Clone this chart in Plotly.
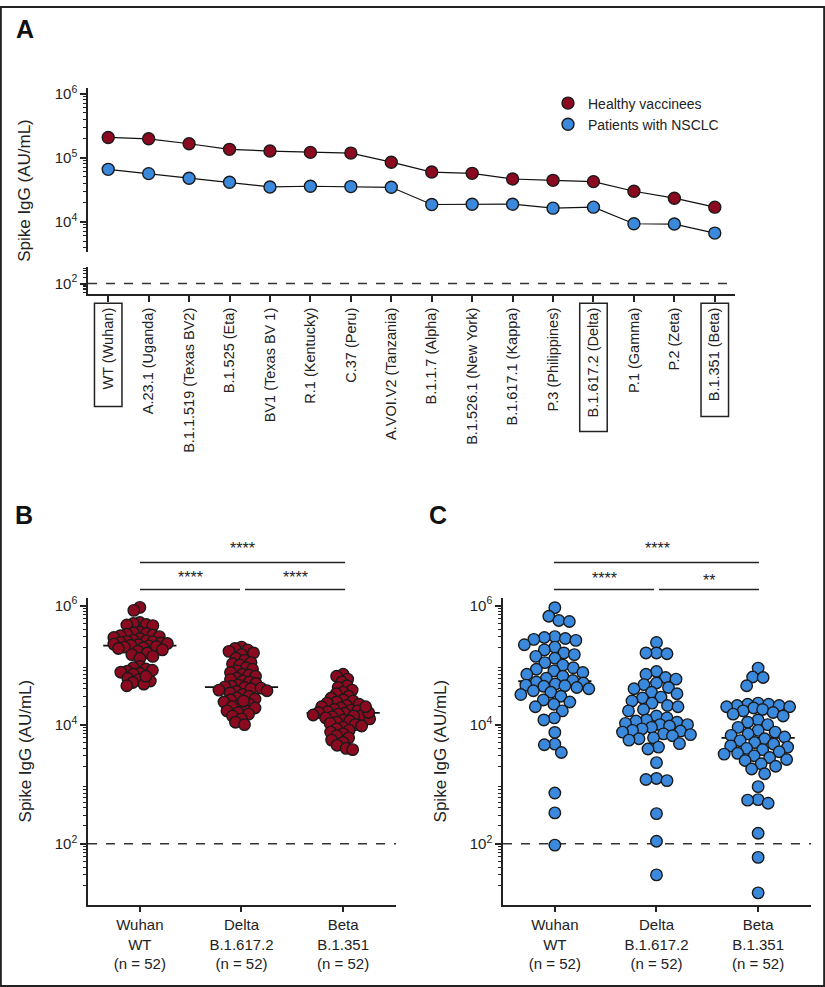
import numpy as np
import plotly.graph_objects as go

W, H = 825, 987
RED = "#8b0a1f"
BLUE = "#3a89dc"
INK = "#222222"

# ---------------- panel A data ----------------
variants = ["WT (Wuhan)", "A.23.1 (Uganda)", "B.1.1.519 (Texas BV2)", "B.1.525 (Eta)",
            "BV1 (Texas BV 1)", "R.1 (Kentucky)", "C.37 (Peru)", "A.VOI.V2 (Tanzania)",
            "B.1.1.7 (Alpha)", "B.1.526.1 (New York)", "B.1.617.1 (Kappa)", "P.3 (Philippines)",
            "B.1.617.2 (Delta)", "P.1 (Gamma)", "P.2 (Zeta)", "B.1.351 (Beta)"]
boxed = ["WT (Wuhan)", "B.1.617.2 (Delta)", "B.1.351 (Beta)"]
healthy_a = [2.07e5, 1.97e5, 1.65e5, 1.35e5, 1.27e5, 1.21e5, 1.18e5, 8.5e4,
             5.97e4, 5.7e4, 4.65e4, 4.43e4, 4.23e4, 2.99e4, 2.33e4, 1.69e4]
nsclc_a = [6.58e4, 5.64e4, 4.77e4, 4.13e4, 3.49e4, 3.58e4, 3.54e4, 3.45e4,
           1.86e4, 1.88e4, 1.88e4, 1.63e4, 1.69e4, 9.3e3, 9.2e3, 6.65e3]
cutoff = 100

# ---------------- panels B / C data ----------------
groups = ["Wuhan<br>WT<br>(n = 52)", "Delta<br>B.1.617.2<br>(n = 52)", "Beta<br>B.1.351<br>(n = 52)"]

healthy_wuhan = [9.3e5, 8.3e5, 5.2e5, 5.0e5, 4.8e5, 4.7e5, 4.6e5,
                 3.6e5, 3.5e5, 3.4e5, 3.3e5, 3.2e5, 3.1e5, 3.0e5, 2.9e5, 2.8e5,
                 2.6e5, 2.55e5, 2.5e5, 2.45e5, 2.4e5, 2.35e5, 2.3e5, 2.25e5, 2.2e5,
                 2.15e5, 2.1e5, 2.05e5, 2.0e5, 1.95e5, 1.9e5,
                 1.8e5, 1.7e5, 1.6e5, 1.5e5, 1.4e5, 1.3e5,
                 9.5e4, 9.0e4, 8.6e4, 8.2e4, 7.9e4, 7.6e4, 7.3e4, 7.0e4,
                 6.0e4, 5.7e4, 5.4e4, 5.1e4, 4.8e4, 4.5e4, 6.5e4]
healthy_delta = [2.0e5, 1.9e5, 1.8e5, 1.7e5, 1.6e5, 1.5e5,
                 1.3e5, 1.2e5, 1.1e5, 1.05e5, 1.0e5, 9.0e4, 8.5e4, 8.0e4,
                 7.5e4, 7.0e4, 6.8e4, 6.5e4, 6.0e4, 5.7e4, 5.4e4, 5.2e4,
                 4.9e4, 4.6e4, 4.4e4, 4.3e4, 4.2e4, 4.0e4, 3.8e4, 3.6e4, 3.4e4, 3.2e4,
                 3.0e4, 2.8e4, 2.7e4, 2.6e4, 2.4e4, 2.2e4, 2.1e4, 2.0e4,
                 1.9e4, 1.8e4, 1.7e4, 1.6e4, 1.5e4, 1.4e4, 1.25e4, 1.1e4, 1.0e4,
                 4.1e4, 3.7e4, 2.5e4]
healthy_beta = [7.0e4, 6.5e4, 5.8e4, 5.2e4, 4.5e4, 4.2e4,
                3.8e4, 3.5e4, 3.3e4, 3.0e4, 2.8e4, 2.6e4, 2.5e4,
                2.4e4, 2.3e4, 2.2e4, 2.1e4, 2.0e4, 1.9e4, 1.8e4, 1.75e4, 1.7e4, 1.65e4,
                1.6e4, 1.55e4, 1.5e4, 1.45e4, 1.4e4, 1.35e4, 1.3e4, 1.25e4, 1.2e4,
                1.15e4, 1.1e4, 1.05e4, 1.0e4,
                9.5e3, 9.0e3, 8.5e3, 8.0e3, 7.5e3, 7.0e3, 6.5e3,
                6.0e3, 5.5e3, 5.0e3, 4.5e3, 4.0e3, 3.8e3, 1.6e4, 1.45e4, 2.0e4]

nsclc_wuhan = [9.2e5, 6.6e5, 5.6e5, 5.4e5,
               3.0e5, 2.9e5, 2.8e5, 2.7e5, 2.6e5, 2.2e5, 2.0e5,
               1.8e5, 1.6e5, 1.5e5, 1.4e5, 1.3e5, 1.1e5, 1.0e5,
               9.0e4, 8.5e4, 8.0e4, 7.5e4, 7.0e4, 6.5e4, 6.0e4, 5.5e4, 5.2e4, 5.0e4,
               4.8e4, 4.6e4, 4.5e4, 4.4e4, 4.2e4, 4.0e4, 3.7e4, 3.5e4, 3.2e4, 3.0e4, 2.6e4,
               2.4e4, 2.2e4, 2.0e4, 1.7e4, 1.3e4,
               1.2e4, 7.4e3, 4.7e3, 4.6e3, 3.4e3, 7.1e2, 3.3e2, 9.5e1]
nsclc_delta = [2.4e5, 1.6e5, 1.6e5, 1.55e5,
               7.8e4, 7.0e4, 6.2e4, 5.8e4, 5.0e4, 4.7e4,
               4.2e4, 4.0e4, 3.5e4, 3.3e4, 2.9e4, 2.8e4,
               2.5e4, 2.3e4, 2.1e4, 2.0e4, 1.8e4, 1.7e4,
               1.4e4, 1.3e4, 1.2e4, 1.15e4, 1.1e4, 1.05e4, 1.0e4,
               1.0e4, 9.5e3, 9.0e3, 8.5e3, 8.0e3, 7.8e3, 7.5e3, 7.0e3, 6.8e3, 6.5e3,
               6.0e3, 5.8e3, 5.5e3, 4.8e3, 4.2e3, 3.9e3,
               2.3e3, 1.25e3, 1.2e3, 1.15e3, 3.2e2, 1.1e2, 3.0e1]
nsclc_beta = [8.9e4, 6.3e4, 6.2e4, 4.5e4,
              2.3e4, 2.2e4, 2.2e4, 2.1e4, 2.1e4, 2.0e4, 2.0e4, 1.9e4,
              1.8e4, 1.7e4, 1.6e4, 1.5e4, 1.4e4,
              1.2e4, 1.1e4, 1.0e4, 9.0e3, 8.0e3, 7.5e3,
              7.0e3, 6.6e3, 6.2e3, 5.8e3, 5.4e3, 5.0e3, 4.7e3, 4.4e3, 4.2e3, 4.0e3,
              3.8e3, 3.5e3, 3.3e3, 3.2e3, 3.0e3, 2.8e3, 2.6e3, 2.5e3, 2.2e3, 2.0e3, 1.8e3, 1.5e3,
              9.1e2, 5.5e2, 5.4e2, 4.8e2, 1.5e2, 5.9e1, 1.5e1]

healthy_sets = [healthy_wuhan, healthy_delta, healthy_beta]
nsclc_sets = [nsclc_wuhan, nsclc_delta, nsclc_beta]


def px(x):
    return x / W


def py(y):
    return 1 - y / H


def swarm(vals, d, maxw, px_dec=60.0):
    # simple beeswarm in pixel space, returns x offsets in px
    y = np.log10(np.asarray(vals, dtype=float)) * px_dec
    order = np.argsort(-y, kind="stable")
    cands = np.arange(-maxw, maxw + 0.25, 0.5)
    cands = cands[np.argsort(np.abs(cands), kind="stable")]
    xs = np.zeros(len(y))
    placed_x, placed_y = [], []
    for i in order:
        if placed_x:
            pxs = np.array(placed_x)
            pys = np.array(placed_y)
            gaps = np.sqrt((cands[:, None] - pxs[None, :]) ** 2 + (y[i] - pys[None, :]) ** 2).min(axis=1)
            ok = np.where(gaps >= d)[0]
            xs[i] = cands[ok[0]] if len(ok) else cands[np.argmax(gaps)]
        placed_x.append(xs[i])
        placed_y.append(y[i])
    return xs


fig = go.Figure()

# ---------------- panel A ----------------
fig.add_trace(go.Scatter(x=[-0.5, 15.5], y=[cutoff, cutoff], xaxis="x", yaxis="y2", mode="lines",
                         line=dict(color="#333", width=1.3, dash="dash"), showlegend=False, hoverinfo="skip"))
for name, vals, col in [("Healthy vaccinees", healthy_a, RED), ("Patients with NSCLC", nsclc_a, BLUE)]:
    xs = list(range(len(variants)))
    fig.add_trace(go.Scatter(x=xs, y=vals, xaxis="x", yaxis="y", mode="lines",
                             line=dict(color="#111", width=1.2), showlegend=False, hoverinfo="skip"))
    fig.add_trace(go.Scatter(x=xs, y=vals, xaxis="x", yaxis="y", name=name, mode="markers",
                             marker=dict(size=12, color=col, line=dict(color="#1a1a1a", width=1.4))))

# ---------------- panels B and C ----------------
panels = [("x2", "y3", healthy_sets, RED, 6.5, 30), ("x3", "y4", nsclc_sets, BLUE, 10.5, 34)]
unit_px = 308 / 3.03
for xa, ya, sets, col, dist, maxw in panels:
    fig.add_trace(go.Scatter(x=[-0.51, 2.52], y=[cutoff, cutoff], xaxis=xa, yaxis=ya, mode="lines",
                             line=dict(color="#333", width=1.3, dash="dash"), showlegend=False, hoverinfo="skip"))
    for g, vals in enumerate(sets):
        med = float(np.median(vals))
        fig.add_trace(go.Scatter(x=[g - 0.36, g + 0.36], y=[med, med], xaxis=xa, yaxis=ya, mode="lines",
                                 line=dict(color="#111", width=1.8), showlegend=False, hoverinfo="skip"))
        offs = swarm(vals, dist, maxw)
        fig.add_trace(go.Scatter(x=g + offs / unit_px, y=vals, xaxis=xa, yaxis=ya, mode="markers",
                                 marker=dict(size=11.5, color=col, line=dict(color="#1a1a1a", width=1.4)),
                                 showlegend=False))

# ---------------- axes ----------------
axis_common = dict(showline=True, linecolor=INK, linewidth=1.5, ticks="outside", tickcolor=INK,
                   tickwidth=1.5, ticklen=6, showgrid=False, zeroline=False, mirror=False)


def minor_vals(lo, hi):
    return [m * 10 ** k for k in range(lo, hi) for m in range(2, 10)]


sup = lambda k: "10<sup>%d</sup>" % k

fig.update_layout(
    xaxis=dict(domain=[px(88), px(735)], range=[-0.5, 15.5], anchor="y2",
               tickvals=list(range(len(variants))), ticktext=variants, tickangle=-90,
               tickfont=dict(size=14.5, family="Arial, Liberation Sans", color=INK), **axis_common),
    yaxis=dict(domain=[py(248), py(83)], type="log", range=[3.52, 6.08], anchor="x",
               tickvals=[1e4, 1e5, 1e6], ticktext=[sup(4), sup(5), sup(6)],
               tickfont=dict(size=15, color=INK),
               minor=dict(tickvals=minor_vals(3, 6), ticks="outside", ticklen=3.5, tickwidth=1, tickcolor=INK),
               **axis_common),
    yaxis2=dict(domain=[py(290), py(263)], type="log", range=[1.5, 2.75], anchor="x",
                tickvals=[100], ticktext=[sup(2)], tickfont=dict(size=15, color=INK),
                minor=dict(tickvals=[40, 50, 60, 70, 80, 90, 200, 300, 400, 500], ticks="outside",
                           ticklen=3.5, tickwidth=1, tickcolor=INK),
                **axis_common),
)

for xa, ya, x0, x1 in [("xaxis2", "yaxis3", 88, 396), ("xaxis3", "yaxis4", 503, 811)]:
    fig.update_layout({
        xa: dict(domain=[px(x0), px(x1)], range=[-0.51, 2.52], anchor=ya.replace("axis", ""),
                 tickvals=[0, 1, 2], ticktext=groups,
                 tickfont=dict(size=15, family="Arial, Liberation Sans", color=INK),
                 **axis_common),
        ya: dict(domain=[py(904), py(596)], type="log", range=[0.98, 6.12], anchor=xa.replace("axis", ""),
                 tickvals=[1e2, 1e4, 1e6], ticktext=[sup(2), sup(4), sup(6)],
                 tickfont=dict(size=15, color=INK),
                 minor=dict(tickvals=minor_vals(0, 6), ticks="outside", ticklen=3.5, tickwidth=1, tickcolor=INK),
                 **axis_common),
    })

# ---------------- boxes around selected A labels ----------------
box_len = {"WT (Wuhan)": 104, "B.1.617.2 (Delta)": 129, "B.1.351 (Beta)": 114}
shapes = []
for lab in boxed:
    i = variants.index(lab)
    shapes.append(dict(type="rect", xref="x", yref="paper", x0=i - 0.34, x1=i + 0.34,
                       y0=py(299 + box_len[lab]), y1=py(299), line=dict(color=INK, width=1.5)))

# significance brackets
for y_px, xs in [(560, [(140, 345), (554, 759)]), (587, [(140, 240), (245, 345), (554, 654), (659, 759)])]:
    for a, b in xs:
        shapes.append(dict(type="line", xref="paper", yref="paper", x0=px(a), x1=px(b),
                           y0=py(y_px), y1=py(y_px), line=dict(color=INK, width=1.5)))
# outer frame
shapes.append(dict(type="rect", xref="paper", yref="paper", x0=0.001, x1=0.999, y0=0.001, y1=0.999,
                   line=dict(color=INK, width=2)))

annotations = []
for txt, x, y in [("A", 25, 23), ("B", 24, 512), ("C", 438, 512)]:
    annotations.append(dict(text="<b>%s</b>" % txt, x=px(x), y=py(y), xref="paper", yref="paper",
                            showarrow=False, font=dict(size=25, color="#111"), xanchor="center", yanchor="middle"))
for x, y in [(25, 186), (25, 750), (440, 750)]:
    annotations.append(dict(text="Spike IgG (AU/mL)", x=px(x), y=py(y), xref="paper", yref="paper",
                            showarrow=False, textangle=-90, font=dict(size=17, color=INK),
                            xanchor="center", yanchor="middle"))
for txt, x, y in [("****", 242, 546), ("****", 190, 575), ("****", 295, 575),
                  ("****", 657, 546), ("****", 604, 576), ("**", 709, 578)]:
    annotations.append(dict(text=txt, x=px(x), y=py(y), xref="paper", yref="paper", showarrow=False,
                            font=dict(size=16, color=INK), xanchor="center", yanchor="middle"))

fig.update_layout(
    width=W, height=H, margin=dict(l=0, r=0, t=0, b=0),
    paper_bgcolor="white", plot_bgcolor="white",
    font=dict(family="Arial, Liberation Sans, Helvetica", color=INK),
    shapes=shapes, annotations=annotations,
    legend=dict(x=px(548), y=py(82), xanchor="left", yanchor="top", bgcolor="rgba(0,0,0,0)",
                font=dict(size=14, color=INK), tracegroupgap=2, itemwidth=30),
    showlegend=True,
)

fig.write_html("out.html", config={"displayModeBar": False},
               post_script="document.body.style.margin='0px';")
